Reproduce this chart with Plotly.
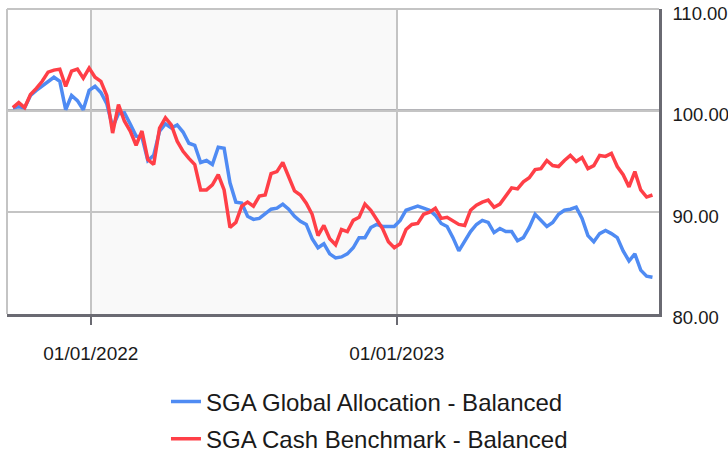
import pandas as pd
import plotly.graph_objects as go

# Weekly observations starting 30 Sep 2021
dates = pd.date_range("2021-09-30", periods=110, freq="7D")

global_allocation = [
    100.3, 100.4, 100.3, 101.5, 102.0, 102.4, 102.9, 103.3, 102.9, 100.1,
    101.5, 101.0, 100.1, 102.0, 102.4, 101.8, 100.7, 98.4, 99.7, 99.8,
    98.7, 97.5, 97.4, 95.1, 95.6, 98.0, 98.7, 98.3, 98.6, 97.9,
    96.8, 96.6, 94.9, 95.1, 94.7, 96.4, 96.3, 92.9, 91.0, 90.9,
    89.6, 89.3, 89.4, 89.9, 90.3, 90.4, 90.8, 90.3, 89.6, 89.1,
    88.8, 87.4, 86.5, 86.9, 85.9, 85.5, 85.6, 85.9, 86.5, 87.5,
    87.5, 88.5, 88.8, 88.6, 88.6, 88.6, 89.2, 90.2, 90.4, 90.6,
    90.4, 90.2, 89.7, 88.9, 88.6, 87.5, 86.2, 87.1, 88.1, 88.8,
    89.2, 89.0, 88.0, 88.4, 88.1, 88.1, 87.2, 87.5, 88.5, 89.8,
    89.2, 88.6, 89.0, 89.8, 90.2, 90.3, 90.5, 89.4, 87.7, 87.1,
    87.9, 88.2, 87.9, 87.5, 86.2, 85.2, 85.9, 84.3, 83.7, 83.6,
]

cash_benchmark = [
    100.3, 100.8, 100.3, 101.6, 102.2, 102.9, 103.8, 104.0, 104.1, 102.4,
    103.9, 104.1, 103.2, 104.2, 103.3, 102.9, 101.5, 97.8, 100.6, 99.0,
    98.0, 96.6, 98.0, 95.2, 94.7, 98.3, 99.3, 98.6, 97.0, 96.0,
    95.3, 94.7, 92.2, 92.2, 92.7, 93.7, 92.2, 88.5, 89.0, 90.6,
    91.0, 90.6, 91.6, 91.7, 93.8, 94.0, 94.9, 93.5, 92.1, 91.7,
    90.9, 89.8, 87.7, 88.7, 87.4, 86.8, 88.3, 88.1, 89.2, 89.5,
    90.8, 90.2, 89.3, 88.4, 87.1, 86.5, 86.9, 88.3, 88.8, 88.9,
    89.8, 90.0, 90.4, 89.4, 89.5, 89.1, 88.8, 88.7, 90.2, 90.7,
    91.0, 91.2, 90.5, 90.8, 91.6, 92.4, 92.3, 93.0, 93.4, 94.2,
    94.3, 95.1, 94.6, 94.5, 95.1, 95.6, 95.0, 95.4, 94.3, 94.6,
    95.6, 95.5, 95.8, 94.5, 93.7, 92.5, 94.0, 92.2, 91.5, 91.7,
]

series_names = ["SGA Global Allocation - Balanced", "SGA Cash Benchmark - Balanced"]
series_colors = ["#4f8bf3", "#ff3f47"]

x_tick_values = ["2022-01-01", "2023-01-01"]
x_tick_labels = ["01/01/2022", "01/01/2023"]
y_tick_values = [80, 90, 100, 110]
y_tick_labels = ["80.00", "90.00", "100.00", "110.00"]
shade_start, shade_end = "2022-01-01", "2023-01-01"
x_range = ["2021-09-23", "2023-11-09 19:00"]
y_range = [79.98, 110.02]

FONT = "Liberation Sans, Arial, sans-serif"
DARK = "#6a6a72"
LIGHT = "#c4c4c4"

fig = go.Figure()
for i, (name, vals, col) in enumerate(zip(series_names, [global_allocation, cash_benchmark], series_colors)):
    fig.add_trace(go.Scatter(x=dates, y=vals, mode="lines", name=name,
                             legendgroup=f"g{i}",
                             line=dict(color=col, width=3.5)))

fig.add_shape(type="rect", xref="x", yref="paper", x0=shade_start, x1=shade_end,
              y0=0, y1=1, fillcolor="#f9f9f9", line_width=0, layer="below")
fig.add_shape(type="line", xref="paper", yref="y", x0=0, x1=1, y0=100, y1=100,
              line=dict(color=DARK, width=2.5), layer="between")
fig.add_shape(type="line", xref="paper", yref="paper", x0=0, x1=0, y0=0, y1=1,
              line=dict(color=LIGHT, width=2), layer="between")
fig.add_shape(type="line", xref="paper", yref="paper", x0=0, x1=1, y0=1, y1=1,
              line=dict(color=LIGHT, width=2), layer="between")

fig.update_layout(
    width=728, height=456,
    margin=dict(l=7, r=69, t=9, b=142, autoexpand=False),
    paper_bgcolor="white", plot_bgcolor="white",
    font=dict(family=FONT, color="#1a1a1a", size=19),
    showlegend=True,
    legend=dict(xref="container", yref="container", x=0.228, y=0.168,
                xanchor="left", yanchor="top", font=dict(size=24),
                bgcolor="rgba(0,0,0,0)", tracegroupgap=3),
    xaxis=dict(type="date", range=x_range, tickvals=x_tick_values, ticktext=x_tick_labels,
               showgrid=True, gridcolor=LIGHT, gridwidth=2,
               showline=True, linecolor=DARK, linewidth=2.5,
               ticks="outside", ticklen=8, tickwidth=2, tickcolor=DARK,
               tickfont=dict(size=19), ticklabelstandoff=12, zeroline=False),
    yaxis=dict(side="right", range=y_range, tickvals=y_tick_values, ticktext=y_tick_labels,
               showgrid=True, gridcolor=LIGHT, gridwidth=2,
               showline=True, linecolor=DARK, linewidth=2.5,
               ticks="", tickfont=dict(size=18.5), ticklabelstandoff=7,
               ticklabeloverflow="allow", ticklabelshift=4, zeroline=False),
)

fig.write_html("out.html", config={"displayModeBar": False},
               post_script="document.body.style.margin='0';")
